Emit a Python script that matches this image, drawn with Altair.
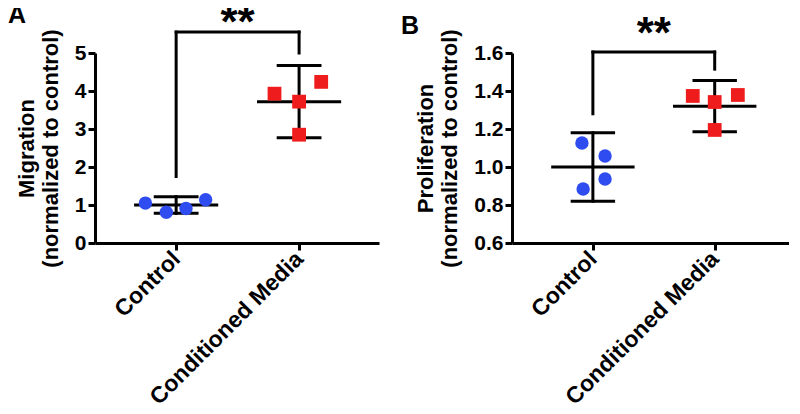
import altair as alt
import pandas as pd

# ---------------- data ----------------
groups = ["Control", "Conditioned Media"]
group_pos = [1, 2]

# Panel A: migration
mig_control = [1.05, 0.81, 0.91, 1.14]
mig_control_jit = [-0.25, -0.08, 0.08, 0.24]
mig_cm = [3.93, 3.72, 4.24, 2.85]
mig_cm_jit = [-0.20, 0.0, 0.18, 0.0]
mig_mean = [1.0, 3.72]
mig_sd = [0.22, 0.95]
mig_bracket = [1.75, 5.0, 5.55]   # left foot, right foot, top
mig_star_y = 5.42

# Panel B: proliferation
pro_control = [1.126, 1.058, 0.937, 0.884]
pro_control_jit = [-0.09, 0.10, 0.10, -0.08]
pro_cm = [1.374, 1.342, 1.379, 1.195]
pro_cm_jit = [-0.18, 0.0, 0.19, 0.0]
pro_mean = [1.0, 1.32]
pro_sd = [0.18, 0.135]
pro_bracket = [1.28, 1.515, 1.605]
pro_star_y = 1.627

sig_label = "**"

FONT = "Liberation Sans"
BLUE = "#2f4cf0"
RED = "#ee1c1c"
MEAN_HALF = 0.33
CAP_HALF = 0.17


def panel(ctrl, ctrl_j, cm, cm_j, mean, sd, bracket, star_y,
          ydomain, yticks, yfmt, ytitle, letter, letter_dx, width, xdomain, title_pad):
    xs = alt.Scale(domain=xdomain, nice=False, zero=False)
    ys = alt.Scale(domain=ydomain, nice=False, zero=False)
    xaxis = alt.Axis(values=group_pos,
                     labelExpr="datum.value == 1 ? '%s' : '%s'" % (groups[0], groups[1]),
                     title=None)
    yaxis = alt.Axis(values=yticks, format=yfmt, title=ytitle, titlePadding=title_pad)

    ctrl_df = pd.DataFrame({"x": [group_pos[0] + j for j in ctrl_j], "y": ctrl})
    cm_df = pd.DataFrame({"x": [group_pos[1] + j for j in cm_j], "y": cm})

    segs = []
    for p, m, s in zip(group_pos, mean, sd):
        segs.append({"x": p - MEAN_HALF, "x2": p + MEAN_HALF, "y": m, "y2": m})
        segs.append({"x": p - CAP_HALF, "x2": p + CAP_HALF, "y": m + s, "y2": m + s})
        segs.append({"x": p - CAP_HALF, "x2": p + CAP_HALF, "y": m - s, "y2": m - s})
        segs.append({"x": p, "x2": p, "y": m - s, "y2": m + s})
    segs.append({"x": group_pos[0], "x2": group_pos[0], "y": bracket[0], "y2": bracket[2]})
    segs.append({"x": group_pos[1], "x2": group_pos[1], "y": bracket[1], "y2": bracket[2]})
    segs.append({"x": group_pos[0], "x2": group_pos[1], "y": bracket[2], "y2": bracket[2]})
    seg_df = pd.DataFrame(segs)

    rules = alt.Chart(seg_df).mark_rule(color="black", strokeWidth=3, strokeCap="square").encode(
        x=alt.X("x:Q", scale=xs, axis=xaxis),
        x2="x2:Q",
        y=alt.Y("y:Q", scale=ys, axis=yaxis),
        y2="y2:Q",
    )
    circles = alt.Chart(ctrl_df).mark_circle(size=180, color=BLUE, opacity=1).encode(
        x=alt.X("x:Q", scale=xs, axis=xaxis),
        y=alt.Y("y:Q", scale=ys, axis=yaxis),
    )
    squares = alt.Chart(cm_df).mark_square(size=190, color=RED, opacity=1).encode(
        x=alt.X("x:Q", scale=xs, axis=xaxis),
        y=alt.Y("y:Q", scale=ys, axis=yaxis),
    )
    star_df = pd.DataFrame({"x": [(group_pos[0] + group_pos[1]) / 2], "y": [star_y], "t": [sig_label]})
    star = alt.Chart(star_df).mark_text(fontSize=44, fontWeight="bold", font=FONT,
                                        baseline="alphabetic", color="black").encode(
        x=alt.X("x:Q", scale=xs, axis=xaxis),
        y=alt.Y("y:Q", scale=ys, axis=yaxis),
        text="t:N",
    )
    return alt.layer(rules, circles, squares, star).properties(
        width=width, height=190,
        title=alt.TitleParams(letter, anchor="start", frame="group", dx=letter_dx,
                              fontSize=25, fontWeight="bold", font=FONT, color="black",
                              offset=-26),
    )


a = panel(mig_control, mig_control_jit, mig_cm, mig_cm_jit, mig_mean, mig_sd,
          mig_bracket, mig_star_y, [0, 5], [0, 1, 2, 3, 4, 5], "d",
          ["Migration", "(normalized to control)"], "A", -87, 284, [0.34, 2.65], 12)
b = panel(pro_control, pro_control_jit, pro_cm, pro_cm_jit, pro_mean, pro_sd,
          pro_bracket, pro_star_y, [0.6, 1.6], [0.6, 0.8, 1.0, 1.2, 1.4, 1.6], ".1f",
          ["Proliferation", "(normalized to control)"], "B", -111, 277, [0.336, 2.61], 12)

chart = (
    alt.hconcat(a, b, spacing=22)
    .configure(background="white", padding={"left": 0, "top": -6, "right": 0, "bottom": 0})
    .configure_view(stroke=None)
    .configure_axis(
        labelFontSize=21, labelFontWeight="bold", labelFont=FONT, labelColor="black",
        titleFontSize=22, titleFontWeight="bold", titleFont=FONT, titleColor="black",
        titleLineHeight=24, grid=False, domainWidth=3, tickWidth=3, tickSize=7,
        domainColor="black", tickColor="black", labelPadding=2, labelLimit=0,
    )
    .configure_axisX(labelAngle=-45, labelAlign="right", labelBaseline="middle",
                     labelPadding=5, labelFontSize=23)
)

chart.save("out.html", embed_options={"renderer": "svg", "actions": False})
